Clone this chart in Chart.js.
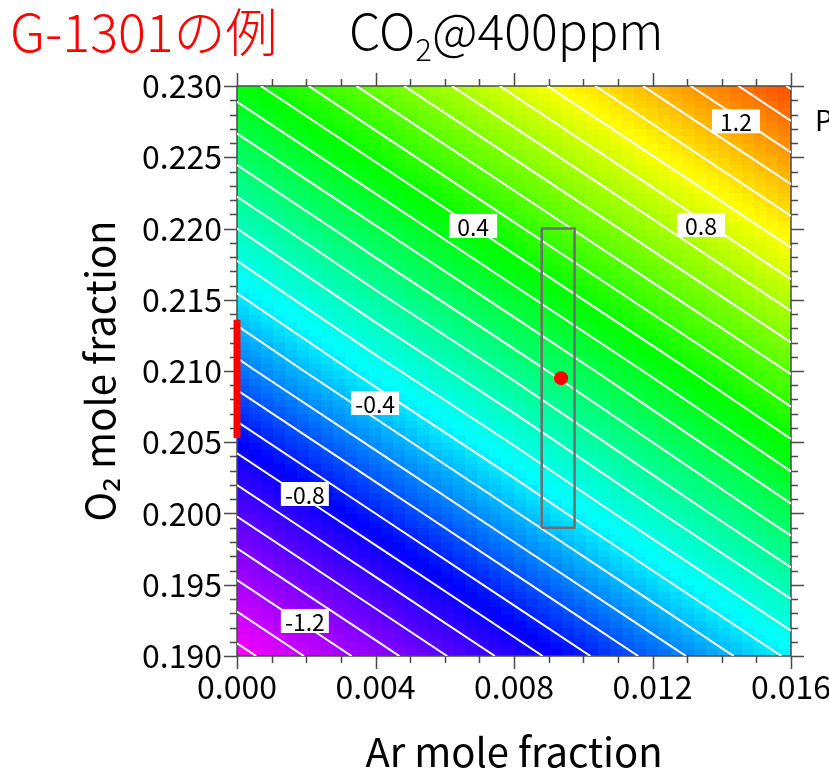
<!DOCTYPE html>
<html>
<head>
<meta charset="utf-8">
<title>CO2@400ppm</title>
<script src="https://cdn.jsdelivr.net/npm/chart.js@4.4.1/dist/chart.umd.min.js"></script>
<style>
  html, body { margin: 0; padding: 0; background: #fff; }
  #wrap { width: 829px; height: 776px; }
</style>
</head>
<body>
<div id="wrap"><canvas id="contourChart" width="829" height="776"></canvas></div>
<script>
// sensitivity field sampled on the Ar / O2 grid (rows = O2, cols = Ar)
const arGrid = [0.000, 0.004, 0.008, 0.012, 0.016];
const o2Grid = [0.190, 0.200, 0.210, 0.220, 0.230];
const fieldRows = [
    [-1.44, -1.15, -0.86, -0.57, -0.28],
    [-0.99, -0.70, -0.41, -0.12, 0.17],
    [-0.54, -0.25, 0.03, 0.32, 0.61],
    [-0.10, 0.19, 0.48, 0.77, 1.06],
    [0.35, 0.64, 0.93, 1.22, 1.51]
];

const contourLevels = [-1.4, -1.3, -1.2, -1.1, -1.0, -0.9, -0.8, -0.7, -0.6, -0.5, -0.4, -0.3, -0.2, -0.1, 0.0,
    0.1, 0.2, 0.3, 0.4, 0.5, 0.6, 0.7, 0.8, 0.9, 1.0, 1.1, 1.2, 1.3, 1.4, 1.5];

// contour labels
const labelText = ['1.2', '0.8', '0.4', '-0.4', '-0.8', '-1.2'];
const labelAr = [0.01441, 0.01340, 0.00682, 0.00399, 0.00196, 0.00196];
const labelO2 = [0.22752, 0.22025, 0.22018, 0.20775, 0.20137, 0.19246];

// rainbow colour table
const colorLevels = [-1.44, -0.76, -0.26, 0.38, 1.02, 1.51];
const colorRGB = [[255, 0, 255], [0, 0, 255], [0, 255, 255], [0, 255, 0], [255, 255, 0], [255, 75, 0]];

// axes
const arTicks = [0.000, 0.004, 0.008, 0.012, 0.016];
const o2Ticks = [0.190, 0.195, 0.200, 0.205, 0.210, 0.215, 0.220, 0.225, 0.230];

// standard air point, its tolerance box and the red marker on the O2 axis
const sampleAr = [0.00936];
const sampleO2 = [0.2095];
const boxAr = [0.0088, 0.00975];
const boxO2 = [0.199, 0.220];
const barO2 = [0.2053, 0.2136];

const FONT = '"Noto Sans CJK JP", "Noto Sans", sans-serif';

function fieldAt(ar, o2) {
    let i = 0, j = 0;
    while (i < arGrid.length - 2 && ar > arGrid[i + 1]) i++;
    while (j < o2Grid.length - 2 && o2 > o2Grid[j + 1]) j++;
    const tx = (ar - arGrid[i]) / (arGrid[i + 1] - arGrid[i]);
    const ty = (o2 - o2Grid[j]) / (o2Grid[j + 1] - o2Grid[j]);
    const a = fieldRows[j][i], b = fieldRows[j][i + 1];
    const c = fieldRows[j + 1][i], d = fieldRows[j + 1][i + 1];
    return (a * (1 - tx) + b * tx) * (1 - ty) + (c * (1 - tx) + d * tx) * ty;
}

function colorFor(v) {
    if (v <= colorLevels[0]) return colorRGB[0];
    const n = colorLevels.length;
    if (v >= colorLevels[n - 1]) return colorRGB[n - 1];
    let k = 0;
    while (v > colorLevels[k + 1]) k++;
    const t = (v - colorLevels[k]) / (colorLevels[k + 1] - colorLevels[k]);
    return colorRGB[k].map((c, m) => Math.round(c + (colorRGB[k + 1][m] - c) * t));
}

// marching squares over the grid; each cell gives one segment, gaps in between
function contourPoints(level) {
    const segs = [];
    for (let j = 0; j < o2Grid.length - 1; j++) {
        for (let i = 0; i < arGrid.length - 1; i++) {
            const corners = [
                [arGrid[i], o2Grid[j], fieldRows[j][i]],
                [arGrid[i + 1], o2Grid[j], fieldRows[j][i + 1]],
                [arGrid[i + 1], o2Grid[j + 1], fieldRows[j + 1][i + 1]],
                [arGrid[i], o2Grid[j + 1], fieldRows[j + 1][i]]
            ];
            const hits = [];
            for (let e = 0; e < 4; e++) {
                const p = corners[e], q = corners[(e + 1) % 4];
                if ((p[2] >= level) !== (q[2] >= level)) {
                    const t = (level - p[2]) / (q[2] - p[2]);
                    hits.push({ x: p[0] + (q[0] - p[0]) * t, y: p[1] + (q[1] - p[1]) * t });
                }
            }
            for (let h = 0; h + 1 < hits.length; h += 2) {
                segs.push([hits[h], hits[h + 1]].sort((m, n) => m.x - n.x));
            }
        }
    }
    segs.sort((m, n) => m[0].x - n[0].x);
    const pts = [];
    segs.forEach(s => pts.push(s[0], s[1], { x: s[1].x, y: null }));
    return pts;
}

const heatmap = {
    id: 'heatmap',
    beforeDatasetsDraw(chart) {
        const { ctx, chartArea: area, scales: { x, y } } = chart;
        const nx = 46, ny = 80;
        const arMin = arGrid[0], arMax = arGrid[arGrid.length - 1];
        const o2Min = o2Grid[0], o2Max = o2Grid[o2Grid.length - 1];
        ctx.save();
        for (let i = 0; i < nx; i++) {
            const a0 = arMin + (arMax - arMin) * i / nx;
            const a1 = arMin + (arMax - arMin) * (i + 1) / nx;
            const x0 = Math.floor(x.getPixelForValue(a0));
            const x1 = Math.ceil(x.getPixelForValue(a1));
            for (let j = 0; j < ny; j++) {
                const o0 = o2Min + (o2Max - o2Min) * j / ny;
                const o1 = o2Min + (o2Max - o2Min) * (j + 1) / ny;
                const y0 = Math.ceil(y.getPixelForValue(o0));
                const y1 = Math.floor(y.getPixelForValue(o1));
                const c = colorFor(fieldAt((a0 + a1) / 2, (o0 + o1) / 2));
                ctx.fillStyle = `rgb(${c[0]},${c[1]},${c[2]})`;
                ctx.fillRect(x0, y1, x1 - x0, y0 - y1);
            }
        }

        // frame with minor / major ticks pointing outwards
        ctx.strokeStyle = '#4a4a4a';
        ctx.lineWidth = 1.5;
        ctx.strokeRect(area.left, area.top, area.right - area.left, area.bottom - area.top);
        ctx.beginPath();
        for (let k = 0; k <= 16; k++) {
            const px = Math.round(x.getPixelForValue(k * 0.001)) + 0.5;
            const len = k % 4 === 0 ? 13 : 7;
            ctx.moveTo(px, area.bottom); ctx.lineTo(px, area.bottom + len);
            ctx.moveTo(px, area.top); ctx.lineTo(px, area.top - len);
        }
        for (let k = 0; k <= 40; k++) {
            const py = Math.round(y.getPixelForValue(0.19 + k * 0.001)) + 0.5;
            const len = k % 5 === 0 ? 13 : 7;
            ctx.moveTo(area.left - len, py); ctx.lineTo(area.left, py);
            ctx.moveTo(area.right, py); ctx.lineTo(area.right + len, py);
        }
        ctx.stroke();
        ctx.restore();
    },
    afterDatasetsDraw(chart) {
        const { ctx, scales: { x, y } } = chart;
        ctx.save();
        ctx.font = '23px ' + FONT;
        ctx.textAlign = 'center';
        ctx.textBaseline = 'middle';
        labelText.forEach((t, k) => {
            const cx = x.getPixelForValue(labelAr[k]);
            const cy = y.getPixelForValue(labelO2[k]);
            ctx.fillStyle = '#fff';
            ctx.fillRect(cx - 24, cy - 12, 48, 24);
            ctx.fillStyle = '#000';
            ctx.fillText(t, cx, cy + 1);
        });
        ctx.restore();
    },
    afterDraw(chart) {
        const { ctx } = chart;
        ctx.save();
        ctx.textBaseline = 'alphabetic';
        ctx.fillStyle = '#ff0000';
        ctx.font = '300 52px ' + FONT;
        ctx.fillText('G-1301の例', 10, 52);

        ctx.fillStyle = '#000';
        let cx = 349;
        ctx.font = '300 50px ' + FONT;
        ctx.fillText('CO', cx, 50);
        cx += ctx.measureText('CO').width;
        ctx.font = '300 31px ' + FONT;
        ctx.fillText('2', cx, 61);
        cx += ctx.measureText('2').width;
        ctx.font = '300 50px ' + FONT;
        ctx.fillText('@400ppm', cx, 50);

        ctx.font = '28px ' + FONT;
        ctx.fillText('P', 815, 131);
        ctx.restore();
    }
};

const datasets = [
    {
        data: sampleAr.map((a, k) => ({ x: a, y: sampleO2[k] })),
        showLine: false,
        pointRadius: 7,
        pointBackgroundColor: '#ff0000',
        pointBorderWidth: 0
    },
    {
        data: [
            { x: boxAr[0], y: boxO2[0] }, { x: boxAr[1], y: boxO2[0] },
            { x: boxAr[1], y: boxO2[1] }, { x: boxAr[0], y: boxO2[1] },
            { x: boxAr[0], y: boxO2[0] }
        ],
        borderColor: '#6e6e6e',
        borderWidth: 2.5,
        pointRadius: 0
    },
    {
        data: barO2.map(v => ({ x: 0, y: v })),
        borderColor: '#ff0000',
        borderWidth: 7,
        pointRadius: 0,
        clip: false
    }
];
contourLevels.forEach(level => {
    datasets.push({
        data: contourPoints(level),
        borderColor: '#ffffff',
        borderWidth: 2,
        pointRadius: 0,
        spanGaps: false
    });
});

const ctx = document.getElementById('contourChart').getContext('2d');
new Chart(ctx, {
    type: 'line',
    data: { datasets },
    plugins: [heatmap],
    options: {
        responsive: false,
        animation: false,
        devicePixelRatio: 1,
        layout: { padding: { top: 86, right: 38, left: 0, bottom: 0 } },
        plugins: { legend: { display: false }, tooltip: { enabled: false } },
        scales: {
            x: {
                type: 'linear',
                min: arTicks[0],
                max: arTicks[arTicks.length - 1],
                afterFit: s => { s.height = 120; s.paddingLeft = 0; s.paddingRight = 0; },
                afterBuildTicks: s => { s.ticks = arTicks.map(v => ({ value: v })); },
                grid: { display: false, drawTicks: false },
                border: { display: false },
                ticks: {
                    color: '#000',
                    padding: 12,
                    maxRotation: 0,
                    autoSkip: false,
                    font: { family: FONT, size: 32 },
                    callback: v => v.toFixed(3)
                },
                title: {
                    display: true,
                    text: 'Ar mole fraction',
                    color: '#000',
                    font: { family: FONT, size: 40 },
                    padding: { top: 0, bottom: 0 }
                }
            },
            y: {
                type: 'linear',
                min: o2Ticks[0],
                max: o2Ticks[o2Ticks.length - 1],
                afterFit: s => { s.width = 237; s.paddingTop = 0; s.paddingBottom = 0; },
                afterBuildTicks: s => { s.ticks = o2Ticks.map(v => ({ value: v })); },
                grid: { display: false, drawTicks: false },
                border: { display: false },
                ticks: {
                    color: '#000',
                    padding: 15,
                    autoSkip: false,
                    font: { family: FONT, size: 32 },
                    callback: v => v.toFixed(3)
                },
                title: {
                    display: true,
                    text: 'O₂ mole fraction',
                    color: '#000',
                    font: { family: FONT, size: 40 },
                    padding: { top: 76, bottom: 0 }
                }
            }
        }
    }
});
</script>
</body>
</html>
